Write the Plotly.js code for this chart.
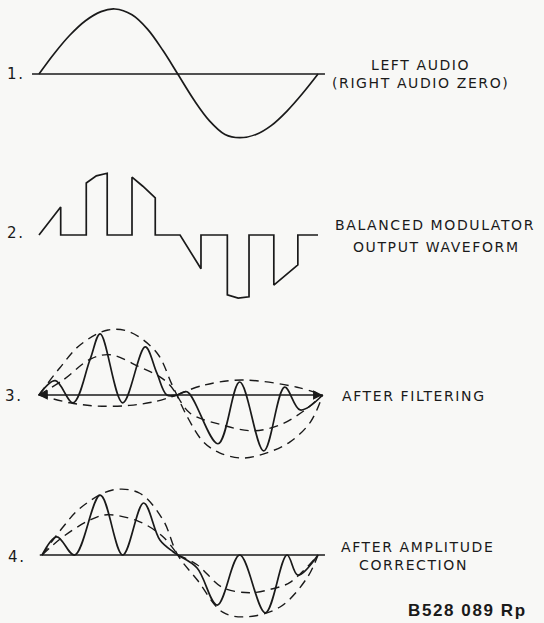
<!DOCTYPE html>
<html>
<head>
<meta charset="utf-8">
<script src="https://cdn.plot.ly/plotly-3.0.1.min.js"></script>
<style>
  html, body { margin: 0; padding: 0; background: #f8f8f6; }
  #chart { width: 544px; height: 623px; }
  .annotation-text { letter-spacing: 1.6px; }
</style>
</head>
<body>
<div id="chart"></div>
<script>
// ---- Data (phase in degrees, amplitude relative to the left-audio peak) ----
// Panel 1: left audio sine
const p1X = [0, 20, 40, 60, 80, 98, 120, 140, 160, 179, 200, 220, 240, 259, 280, 300, 320, 340, 360];
const p1Y = [0, 0.32, 0.60, 0.82, 0.96, 1.0, 0.91, 0.69, 0.36, 0, -0.40, -0.72, -0.93, -0.98, -0.93, -0.79, -0.57, -0.30, 0];
const p1BaseX = [-9, 369];

// Panel 2: balanced modulator output (switched audio)
const p2X = [0, 28, 28, 61, 61, 74, 88, 88, 120, 120, 134, 150, 150, 182, 209, 209, 243, 243, 257, 271, 271, 303, 303, 334, 334, 360];
const p2Y = [0, 0.43, 0, 0, 0.80, 0.91, 0.95, 0, 0, 0.89, 0.75, 0.57, 0, 0, -0.52, 0, 0, -0.92, -0.97, -0.95, 0, 0, -0.77, -0.46, 0, 0];

// Panel 3: after filtering
const p3SolidX = [0, 21, 44, 66, 79, 108, 137, 152, 165, 178, 191, 231, 259, 290, 317, 337, 366];
const p3SolidY = [0, 0.22, -0.12, 0.55, 0.94, -0.12, 0.74, 0.34, 0, 0, 0.05, -0.75, 0.20, -0.86, 0.12, -0.23, 0];
const p3OuterX = [0, 27, 53, 89, 117, 152, 172, 192, 212, 233, 262, 294, 324, 350, 366];
const p3OuterY = [0, 0.42, 0.77, 1.0, 0.97, 0.65, 0.15, -0.35, -0.72, -0.89, -0.97, -0.89, -0.72, -0.42, 0];
const p3InnerUpX = [0, 31, 66, 92, 130, 156, 169, 178];
const p3InnerUpY = [0, 0.23, 0.55, 0.62, 0.43, 0.28, 0.15, 0];
const p3InnerLowLX = [0, 40, 75, 117, 150, 178];
const p3InnerLowLY = [0, -0.12, -0.17, -0.16, -0.10, 0];
const p3UpRX = [178, 212, 262, 333, 366];
const p3UpRY = [0, 0.15, 0.23, 0.12, 0];
const p3InnerLowRX = [178, 195, 233, 276, 311, 341, 366];
const p3InnerLowRY = [0, -0.28, -0.45, -0.55, -0.46, -0.25, 0];
const p3BaseX = [-1, 366];

// Panel 4: after amplitude correction
const p4SolidX = [4, 23, 46, 79, 108, 135, 156, 173, 179, 204, 230, 259, 292, 320, 334, 360];
const p4SolidY = [0, 0.28, 0, 0.92, 0, 0.80, 0.23, 0.05, 0, -0.20, -0.77, 0, -0.89, 0, -0.31, 0];
const p4OuterX = [4, 31, 53, 95, 130, 160, 179, 204, 237, 268, 311, 346, 360];
const p4OuterY = [0, 0.43, 0.72, 1.0, 0.95, 0.54, 0, -0.38, -0.88, -0.95, -0.80, -0.35, 0];
const p4InnerUpX = [4, 31, 66, 88, 130, 160, 179];
const p4InnerUpY = [0, 0.28, 0.54, 0.62, 0.51, 0.28, 0];
const p4InnerLowX = [179, 204, 237, 272, 298, 324, 360];
const p4InnerLowY = [0, -0.15, -0.50, -0.58, -0.53, -0.42, 0];
const p4BaseX = [1, 369];

const panelLabels = ['1.', '2.', '3.', '4.'];
const descriptions = [
  ['LEFT AUDIO', '(RIGHT AUDIO ZERO)'],
  ['BALANCED MODULATOR', 'OUTPUT WAVEFORM'],
  ['AFTER FILTERING'],
  ['AFTER AMPLITUDE', 'CORRECTION']
];
const figureCode = 'B528 089 Rp';

// ---- Layout geometry ----
const W = 544, H = 623;
const ink = '#1a1a1a';
const pxPerDeg = 0.775, x0px = 39;          // phase 0 at pixel 39
const pxPerUnit = 65;                        // amplitude scale
const basePx = [74, 235, 395, 555];          // baseline rows

function yAxisFor(i) {
  const b = basePx[i];
  const top = Math.max(0, b - 80), bot = Math.min(H, b + 80);
  return {
    domain: [1 - bot / H, 1 - top / H],
    range: [-(bot - b) / pxPerUnit, (b - top) / pxPerUnit],
    visible: false, fixedrange: true, anchor: 'x'
  };
}

const solid = { color: ink, width: 1.7 };
const dashed = { color: ink, width: 1.4, dash: '9px,6px' };
function tr(x, y, yax, line, shape) {
  return { x: x, y: y, yaxis: yax, type: 'scatter', mode: 'lines',
           line: Object.assign({ shape: shape || 'spline', smoothing: 1 }, line),
           hoverinfo: 'skip', showlegend: false };
}
function zeros(a) { return a.map(() => 0); }

const traces = [
  tr(p1BaseX, zeros(p1BaseX), 'y', { color: ink, width: 1.6 }, 'linear'),
  tr(p1X, p1Y, 'y', solid),
  tr(p2X, p2Y, 'y2', solid, 'linear'),
  tr(p3BaseX, zeros(p3BaseX), 'y3', { color: ink, width: 1.6 }, 'linear'),
  tr(p3OuterX, p3OuterY, 'y3', dashed),
  tr(p3InnerUpX, p3InnerUpY, 'y3', dashed),
  tr(p3InnerLowLX, p3InnerLowLY, 'y3', dashed),
  tr(p3UpRX, p3UpRY, 'y3', dashed),
  tr(p3InnerLowRX, p3InnerLowRY, 'y3', dashed),
  tr(p3SolidX, p3SolidY, 'y3', solid),
  tr(p4BaseX, zeros(p4BaseX), 'y4', { color: ink, width: 1.6 }, 'linear'),
  tr(p4OuterX, p4OuterY, 'y4', dashed),
  tr(p4InnerUpX, p4InnerUpY, 'y4', dashed),
  tr(p4InnerLowX, p4InnerLowY, 'y4', dashed),
  tr(p4SolidX, p4SolidY, 'y4', solid)
];

const fontMain = { family: 'DejaVu Sans, Liberation Sans, sans-serif', size: 14, color: ink };
const annotations = [];
const labelPos = [[16, 74], [16, 233], [14, 396], [17, 557]];
panelLabels.forEach((t, i) => annotations.push({
  xref: 'paper', yref: 'paper', x: labelPos[i][0] / W, y: 1 - labelPos[i][1] / H,
  text: t, showarrow: false, xanchor: 'center', yanchor: 'middle',
  font: Object.assign({}, fontMain, { size: 15 })
}));
const descPos = [
  [[420, 65], [420, 83]],
  [[435, 225], [436, 247]],
  [[414, 396]],
  [[417, 547], [413, 565]]
];
descriptions.forEach((lines, i) => lines.forEach((t, j) => annotations.push({
  xref: 'paper', yref: 'paper', x: descPos[i][j][0] / W, y: 1 - descPos[i][j][1] / H,
  text: t, showarrow: false, xanchor: 'center', yanchor: 'middle', font: fontMain
})));
annotations.push({
  xref: 'paper', yref: 'paper', x: 467 / W, y: 1 - 610 / H, text: figureCode,
  showarrow: false, xanchor: 'center', yanchor: 'middle',
  font: { family: 'Liberation Sans, Arial, sans-serif', size: 17, color: ink, weight: 'bold' }
});
// baseline arrowheads for panel 3
annotations.push({ xref: 'x', yref: 'y3', axref: 'x', ayref: 'y3', x: p3BaseX[0], y: 0,
  ax: p3BaseX[0] + 14, ay: 0, text: '', showarrow: true, arrowhead: 2, arrowsize: 1.2, arrowwidth: 1.6, arrowcolor: ink });
annotations.push({ xref: 'x', yref: 'y3', axref: 'x', ayref: 'y3', x: p3BaseX[1], y: 0,
  ax: p3BaseX[1] - 14, ay: 0, text: '', showarrow: true, arrowhead: 2, arrowsize: 1.2, arrowwidth: 1.6, arrowcolor: ink });

const layout = {
  width: W, height: H, margin: { l: 0, r: 0, t: 0, b: 0 },
  paper_bgcolor: '#f8f8f6', plot_bgcolor: 'rgba(0,0,0,0)',
  xaxis: { range: [-x0px / pxPerDeg, (W - x0px) / pxPerDeg], visible: false, fixedrange: true },
  yaxis: yAxisFor(0), yaxis2: yAxisFor(1), yaxis3: yAxisFor(2), yaxis4: yAxisFor(3),
  annotations: annotations, showlegend: false
};

Plotly.newPlot('chart', traces, layout, { staticPlot: true, displayModeBar: false });
</script>
</body>
</html>
